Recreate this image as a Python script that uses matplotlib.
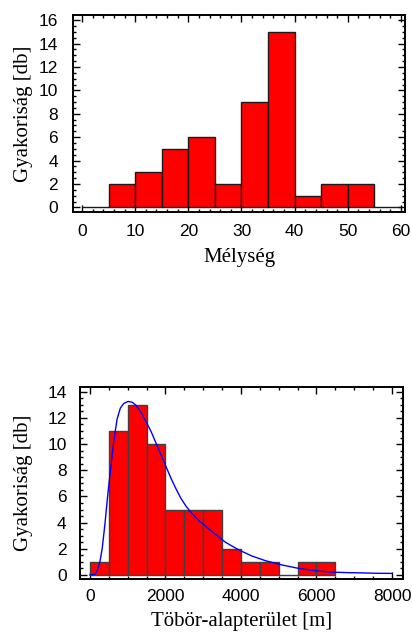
"""Gyakorisági hisztogramok: mélység és töbör-alapterület eloszlása."""

import matplotlib

matplotlib.use("Agg")
import matplotlib.pyplot as plt
from matplotlib.ticker import MultipleLocator

# Mélység hisztogram (5-ös osztályköz)
melyseg_edges = [0, 5, 10, 15, 20, 25, 30, 35, 40, 45, 50, 55, 60]
melyseg_counts = [0, 2, 3, 5, 6, 2, 9, 15, 1, 2, 2, 0]

# Töbör-alapterület hisztogram (500-as osztályköz)
terulet_edges = [0, 500, 1000, 1500, 2000, 2500, 3000, 3500, 4000, 4500,
                 5000, 5500, 6000, 6500]
terulet_counts = [1, 11, 13, 10, 5, 5, 5, 2, 1, 1, 0, 1, 1]

# Illesztett eloszlásgörbe pontjai
gorbe_x = [0, 131, 201, 263, 324, 394, 464, 543, 630, 718, 805, 893, 1007,
           1120, 1225, 1357, 1488, 1620, 1751, 1882, 2013, 2145, 2276, 2407,
           2539, 2670, 2889, 3239, 3589, 3939, 4289, 4639, 5077, 5515, 5953,
           6389, 6800, 7178, 7600, 8000]
gorbe_y = [0.0, 0.05, 0.38, 1.0, 2.0, 3.8, 5.9, 8.0, 10.2, 11.9, 12.75, 13.1,
           13.26, 13.2, 12.95, 12.4, 11.7, 10.96, 10.07, 9.18, 8.29, 7.4,
           6.6, 5.87, 5.28, 4.8, 4.15, 3.3, 2.5, 1.92, 1.45, 1.1, 0.77, 0.51,
           0.33, 0.22, 0.18, 0.16, 0.13, 0.12]

TICK_FONT = "Liberation Sans"
LABEL_FONT = "Liberation Serif"


def style_axes(ax, xpad, ypad):
    for sp in ax.spines.values():
        sp.set_linewidth(1.4)
    ax.tick_params(which="both", direction="in", top=True, right=True,
                   width=1.0)
    ax.tick_params(axis="x", which="both", pad=xpad)
    ax.tick_params(axis="y", which="both", pad=ypad)
    ax.tick_params(which="major", length=5)
    ax.tick_params(which="minor", length=2.5)
    for lab in ax.get_xticklabels() + ax.get_yticklabels():
        lab.set_fontfamily(TICK_FONT)
        lab.set_fontsize(12.5)


def draw_hist(ax, edges, counts, edgecolor):
    widths = [b - a for a, b in zip(edges[:-1], edges[1:])]
    ax.bar(edges[:-1], counts, width=widths, align="edge", color="#ff0000",
           edgecolor=edgecolor, linewidth=1.0, zorder=2)


fig = plt.figure(figsize=(4.12, 6.32), dpi=100)

# felső ábra: mélység
ax1 = fig.add_axes([0.1765, 0.665, 0.807, 0.311])
draw_hist(ax1, melyseg_edges, melyseg_counts, "#1a1a1a")
ax1.set_xlim(-1.75, 60.8)
ax1.set_ylim(-0.37, 16.43)
ax1.xaxis.set_major_locator(MultipleLocator(10))
ax1.xaxis.set_minor_locator(MultipleLocator(2))
ax1.yaxis.set_major_locator(MultipleLocator(2))
ax1.yaxis.set_minor_locator(MultipleLocator(0.5))
style_axes(ax1, xpad=9, ypad=10.5)
ax1.set_xlabel("Mélység", fontfamily=LABEL_FONT, fontsize=15, labelpad=6)
ax1.set_ylabel("Gyakoriság [db]", fontfamily=LABEL_FONT, fontsize=15,
               labelpad=4)

# alsó ábra: töbör-alapterület
ax2 = fig.add_axes([0.194, 0.0834, 0.785, 0.305])
draw_hist(ax2, terulet_edges, terulet_counts, "#404040")
ax2.plot(gorbe_x, gorbe_y, color="#0000ff", linewidth=1.0, zorder=3)
ax2.set_xlim(-265, 8300)
ax2.set_ylim(-0.33, 14.4)
ax2.xaxis.set_major_locator(MultipleLocator(2000))
ax2.xaxis.set_minor_locator(MultipleLocator(500))
ax2.yaxis.set_major_locator(MultipleLocator(2))
ax2.yaxis.set_minor_locator(MultipleLocator(0.5))
style_axes(ax2, xpad=7, ypad=9.5)
ax2.set_xlabel("Töbör-alapterület [m]", fontfamily=LABEL_FONT, fontsize=15,
               labelpad=6)
ax2.set_ylabel("Gyakoriság [db]", fontfamily=LABEL_FONT, fontsize=15,
               labelpad=10.5)

fig.savefig("out.png", dpi=100)
plt.close(fig)
